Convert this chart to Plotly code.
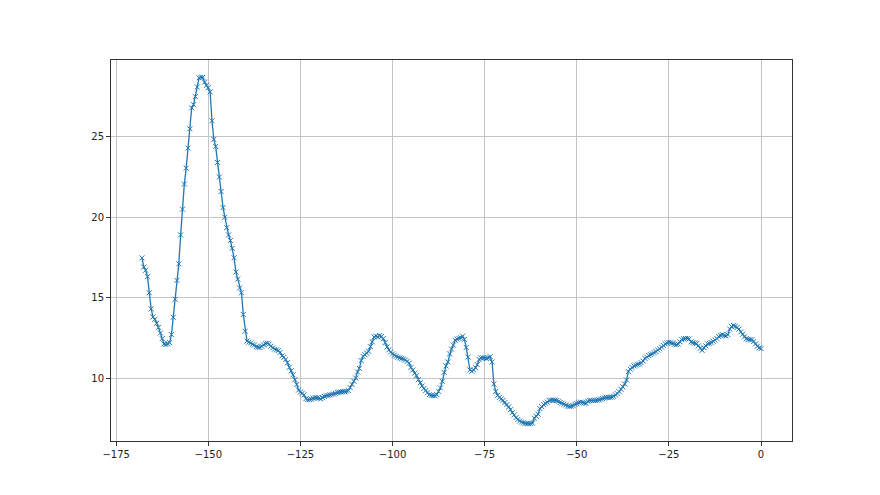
import plotly.graph_objects as go

# y values sampled every 0.5 units from x = -168 to x = 0
y_values = [
    17.47, 16.9, 16.7, 16.3, 15.3, 14.3, 13.8, 13.65, 13.4, 13.15,   # -168 .. -163.5
    12.8, 12.45, 12.12, 12.08, 12.12, 12.2, 12.7, 13.78, 14.9, 16.07,  # -163 .. -158.5
    17.1, 18.9, 20.5, 22.06, 23.05, 24.3, 25.5, 26.8, 27.0, 27.5,    # -158 .. -153.5
    28.1, 28.67, 28.7, 28.7, 28.4, 28.2, 28.05, 27.8, 26.0, 24.84,   # -153 .. -148.5
    24.4, 23.4, 22.5, 21.6, 20.6, 20.0, 19.35, 18.9, 18.55, 18.07,   # -148 .. -143.5
    17.48, 16.59, 16.15, 15.6, 15.3, 13.95, 12.91, 12.3, 12.23, 12.18,  # -143 .. -138.5
    12.1, 12.05, 11.95, 11.91, 11.9, 11.98, 12.06, 12.14, 12.16, 12.1,  # -138 .. -133.5
    11.98, 11.88, 11.8, 11.75, 11.71, 11.6, 11.38, 11.28, 11.15, 10.95,  # -133 .. -128.5
    10.67, 10.45, 10.2, 9.9, 9.6, 9.25, 9.13, 9.05, 8.95, 8.72,      # -128 .. -123.5
    8.65, 8.66, 8.68, 8.75, 8.78, 8.77, 8.75, 8.71, 8.78, 8.86,      # -123 .. -118.5
    8.9, 8.92, 8.95, 8.98, 9.0, 9.05, 9.1, 9.13, 9.13, 9.14,         # -118 .. -113.5
    9.15, 9.18, 9.22, 9.4, 9.6, 9.8, 10.0, 10.37, 10.6, 11.08,       # -113 .. -108.5
    11.35, 11.45, 11.55, 11.66, 11.95, 12.25, 12.55, 12.6, 12.56, 12.64,  # -108 .. -103.5
    12.58, 12.45, 12.2, 11.93, 11.75, 11.62, 11.5, 11.42, 11.35, 11.29,  # -103 .. -98.5
    11.25, 11.22, 11.18, 11.12, 11.04, 10.92, 10.65, 10.5, 10.3, 10.15,  # -98 .. -93.5
    9.9, 9.7, 9.5, 9.35, 9.22, 9.08, 8.96, 8.92, 8.9, 8.9,           # -93 .. -88.5
    8.97, 9.17, 9.38, 9.79, 10.35, 10.75, 11.0, 11.5, 11.8, 12.05,   # -88 .. -83.5
    12.35, 12.43, 12.47, 12.5, 12.6, 12.4, 11.9, 11.3, 10.5, 10.42,  # -83 .. -78.5
    10.5, 10.65, 10.83, 11.15, 11.25, 11.25, 11.25, 11.22, 11.25, 11.33,  # -78 .. -73.5
    11.0, 9.63, 9.17, 8.92, 8.8, 8.7, 8.61, 8.48, 8.35, 8.2,         # -73 .. -68.5
    8.03, 7.85, 7.7, 7.54, 7.42, 7.33, 7.26, 7.21, 7.18, 7.16,       # -68 .. -63.5
    7.16, 7.17, 7.2, 7.5, 7.62, 7.75, 8.1, 8.22, 8.34, 8.43,         # -63 .. -58.5
    8.5, 8.6, 8.62, 8.63, 8.63, 8.6, 8.55, 8.48, 8.43, 8.37,         # -58 .. -53.5
    8.32, 8.25, 8.24, 8.25, 8.28, 8.36, 8.41, 8.46, 8.5, 8.48,       # -53 .. -48.5
    8.45, 8.42, 8.55, 8.6, 8.61, 8.61, 8.61, 8.62, 8.64, 8.69,       # -48 .. -43.5
    8.72, 8.76, 8.8, 8.8, 8.8, 8.81, 8.86, 8.95, 9.03, 9.15,         # -43 .. -38.5
    9.3, 9.45, 9.63, 9.88, 10.4, 10.55, 10.65, 10.75, 10.8, 10.85,   # -38 .. -33.5
    10.87, 10.95, 11.05, 11.22, 11.3, 11.4, 11.45, 11.5, 11.57, 11.64,  # -33 .. -28.5
    11.74, 11.82, 11.92, 12.02, 12.12, 12.18, 12.22, 12.2, 12.17, 12.1,  # -28 .. -23.5
    12.08, 12.11, 12.25, 12.39, 12.44, 12.46, 12.46, 12.42, 12.25, 12.2,  # -23 .. -18.5
    12.17, 12.14, 12.0, 11.85, 11.72, 11.88, 12.0, 12.12, 12.16, 12.2,  # -18 .. -13.5
    12.28, 12.36, 12.46, 12.58, 12.66, 12.7, 12.64, 12.62, 12.7, 13.05,  # -13 .. -8.5
    13.2, 13.27, 13.22, 13.14, 13.04, 12.87, 12.72, 12.57, 12.45, 12.4,  # -8 .. -3.5
    12.39, 12.38, 12.27, 12.12, 11.98, 11.87, 11.83,                 # -3 .. 0
]

x_step = 0.5
n = len(y_values)
x_values = [-(n - 1 - i) * x_step for i in range(n)]

x_ticks = [-175, -150, -125, -100, -75, -50, -25, 0]
y_ticks = [10, 15, 20, 25]

blue = "#1f77b4"

fig = go.Figure()
fig.add_trace(go.Scatter(
    x=x_values, y=y_values, mode="lines+markers",
    line=dict(color=blue, width=1.3),
    marker=dict(symbol="x-thin", size=5, line=dict(color=blue, width=1)),
    showlegend=False, hoverinfo="x+y",
))

axis_common = dict(
    showline=True, linecolor="#333333", linewidth=1, mirror=True,
    showgrid=True, gridcolor="#c4c4c4", gridwidth=1,
    zeroline=False, ticks="outside", ticklen=4, tickcolor="#333333",
    tickfont=dict(family="DejaVu Sans", size=10, color="#222222"),
)

xmin, xmax = min(x_values), max(x_values)
ymin, ymax = min(y_values), max(y_values)
xpad = (xmax - xmin) * 0.05
ypad = (ymax - ymin) * 0.05

fig.update_layout(
    width=880, height=495,
    margin=dict(l=103, r=96, t=52, b=62),
    paper_bgcolor="white", plot_bgcolor="white",
    xaxis=dict(range=[xmin - xpad, xmax + xpad], tickvals=x_ticks, **axis_common),
    yaxis=dict(range=[ymin - ypad, ymax + ypad], tickvals=y_ticks, **axis_common),
)

fig.write_html("out.html")
